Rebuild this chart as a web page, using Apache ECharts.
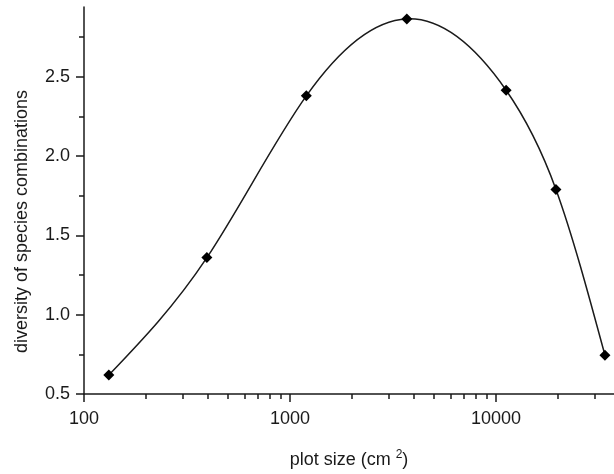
<!DOCTYPE html>
<html>
<head>
<meta charset="utf-8">
<script src="https://cdn.jsdelivr.net/npm/echarts@6/dist/echarts.min.js"></script>
<style>
  html, body { margin: 0; padding: 0; background: #fff; }
  #chart { width: 614px; height: 474px; }
</style>
</head>
<body>
<div id="chart"></div>
<script>
// plot size (cm^2) and diversity
var plotSizes = [132, 395, 1200, 3690, 11200, 19550, 33800];
var diversity = [0.62, 1.36, 2.38, 2.865, 2.415, 1.79, 0.745];

var xLabelTicks = [100, 1000, 10000];
var xMinorTicks = [200, 300, 400, 500, 600, 700, 800, 900,
                   2000, 3000, 4000, 5000, 6000, 7000, 8000, 9000,
                   20000, 30000];
var yMajorTicks = [0.5, 1.0, 1.5, 2.0, 2.5];
var yMinorTicks = [0.75, 1.25, 1.75, 2.25, 2.75];

var font = 'Arial, "Liberation Sans", sans-serif';
var ink = '#1a1a1a';

var points = plotSizes.map(function (x, i) { return [x, diversity[i]]; });

// natural cubic spline through the projected points, drawn as bezier segments
function splinePath(px) {
  var n = px.length;
  var h = [], M = new Array(n).fill(0);
  for (var i = 0; i < n - 1; i++) h.push(px[i + 1][0] - px[i][0]);
  var a = [], b = [], c = [], d = [];
  for (var i = 1; i < n - 1; i++) {
    a.push(h[i - 1]);
    b.push(2 * (h[i - 1] + h[i]));
    c.push(h[i]);
    d.push(6 * ((px[i + 1][1] - px[i][1]) / h[i] - (px[i][1] - px[i - 1][1]) / h[i - 1]));
  }
  var m = b.length;
  for (var i = 1; i < m; i++) {
    var w = a[i] / b[i - 1];
    b[i] -= w * c[i - 1];
    d[i] -= w * d[i - 1];
  }
  var sol = new Array(m);
  sol[m - 1] = d[m - 1] / b[m - 1];
  for (var i = m - 2; i >= 0; i--) sol[i] = (d[i] - c[i] * sol[i + 1]) / b[i];
  for (var i = 0; i < m; i++) M[i + 1] = sol[i];

  var path = 'M' + px[0][0] + ' ' + px[0][1];
  for (var i = 0; i < n - 1; i++) {
    var hi = h[i];
    var s = (px[i + 1][1] - px[i][1]) / hi;
    var d0 = s - hi * (2 * M[i] + M[i + 1]) / 6;
    var d1 = s + hi * (M[i] + 2 * M[i + 1]) / 6;
    path += ' C' + (px[i][0] + hi / 3) + ' ' + (px[i][1] + d0 * hi / 3) +
            ' ' + (px[i + 1][0] - hi / 3) + ' ' + (px[i + 1][1] - d1 * hi / 3) +
            ' ' + px[i + 1][0] + ' ' + px[i + 1][1];
  }
  return path;
}

var chart = echarts.init(document.getElementById('chart'));
chart.setOption({
  animation: false,
  grid: { left: 84, top: 7, width: 530, height: 390.5, containLabel: false },
  xAxis: [{
    type: 'log',
    min: 100,
    max: 37400,
    name: 'plot size (cm {sup|2})',
    nameLocation: 'middle',
    nameGap: 55,
    nameTextStyle: {
      color: ink, fontFamily: font, fontSize: 18,
      rich: { sup: { fontSize: 12, fontFamily: font, color: ink, padding: [0, 0, 10, 0] } }
    },
    axisLine: { lineStyle: { color: ink, width: 1.5 } },
    axisTick: { inside: false, length: 8, customValues: xLabelTicks, lineStyle: { color: ink, width: 1.5 } },
    axisLabel: {
      customValues: xLabelTicks, margin: 16, color: ink, fontFamily: font, fontSize: 18,
      formatter: function (v) { return String(Math.round(v)); }
    },
    splitLine: { show: false }
  }, {
    type: 'log',
    min: 100,
    max: 37400,
    position: 'bottom',
    axisLine: { show: false },
    axisTick: { inside: false, length: 5, customValues: xMinorTicks, lineStyle: { color: ink, width: 1.5 } },
    axisLabel: { show: false },
    splitLine: { show: false }
  }],
  yAxis: [{
    type: 'value',
    min: 0.5,
    max: 2.94,
    name: 'diversity of species combinations',
    nameLocation: 'middle',
    nameGap: 53,
    nameTextStyle: { color: ink, fontFamily: font, fontSize: 18, padding: [0, 42, 0, 0] },
    axisLine: { show: true, lineStyle: { color: ink, width: 1.5 } },
    axisTick: { show: true, inside: false, length: 8, customValues: yMajorTicks, lineStyle: { color: ink, width: 1.5 } },
    axisLabel: {
      customValues: yMajorTicks, margin: 14, color: ink, fontFamily: font, fontSize: 18,
      formatter: function (v) { return v.toFixed(1); }
    },
    splitLine: { show: false }
  }, {
    type: 'value',
    min: 0.5,
    max: 2.94,
    position: 'left',
    axisLine: { show: false },
    axisTick: { show: true, inside: false, length: 5, customValues: yMinorTicks, lineStyle: { color: ink, width: 1.5 } },
    axisLabel: { show: false },
    splitLine: { show: false }
  }],
  series: [{
    type: 'custom',
    data: points,
    clip: false,
    renderItem: function (params, api) {
      if (params.dataIndex !== 0) return null;
      var px = points.map(function (p) { return api.coord(p); });
      return {
        type: 'path',
        shape: { pathData: splinePath(px) },
        style: { stroke: ink, lineWidth: 1.5, fill: null }
      };
    },
    z: 2
  }, {
    type: 'scatter',
    data: points,
    symbol: 'diamond',
    symbolSize: 11,
    itemStyle: { color: '#000', opacity: 1 },
    z: 3
  }]
});
</script>
</body>
</html>
